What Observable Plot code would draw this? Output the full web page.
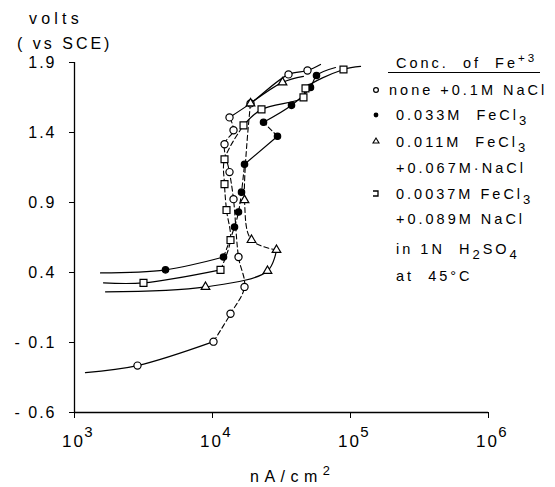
<!DOCTYPE html>
<html><head><meta charset="utf-8">
<script src="https://cdn.jsdelivr.net/npm/d3@7"></script>
<script src="https://cdn.jsdelivr.net/npm/@observablehq/plot@0.6"></script>
<style>
html,body{margin:0;padding:0;background:#fff;}
#wrap{position:relative;width:555px;height:487px;font-family:"Liberation Sans",Arial,sans-serif;color:#000;overflow:hidden;}
#wrap svg{position:absolute;left:0;top:0;}
#wrap svg text{letter-spacing:2px;}
.lab{position:absolute;white-space:pre;line-height:1;}
.lab sup{font-size:0.8em;line-height:0;vertical-align:0.55em;}
.lab sub{font-size:0.9em;line-height:0;vertical-align:-0.35em;}
.mk{position:absolute;}
</style></head><body><div id="wrap"></div>
<script>
// ---- tick values / labels ----
const xTicks = [1e3, 1e4, 1e5, 1e6];
const xTickExp = ["3", "4", "5", "6"];
const yTicks = [-0.6, -0.1, 0.4, 0.9, 1.4, 1.9];

// ---- series (current density nA/cm2, potential V vs SCE) ----
const noneX = [1201, 2861, 10167, 13503, 17061, 15432, 14198, 13280, 12218, 14198, 13280, 18857, 35540, 48790, 60620];
const noneY = [-0.315, -0.265, -0.094, 0.105, 0.297, 0.511, 0.924, 1.117, 1.316, 1.416, 1.508, 1.608, 1.815, 1.843, 1.886];

const fe033X = [1543, 4564, 12015, 14436, 15432, 16226, 17061, 29580, 23425, 37370, 51290, 56690, 77860];
const fe033Y = [0.397, 0.419, 0.511, 0.725, 0.832, 0.974, 1.173, 1.373, 1.473, 1.594, 1.722, 1.807, 1.864];

const fe011X = [1678, 8897, 25035, 29087, 19170, 17061, 18857, 32160, 45630];
const fe011Y = [0.262, 0.297, 0.411, 0.561, 0.632, 0.917, 1.608, 1.758, 1.801];

const fe0037X = [1622, 3162, 11428, 13503, 12633, 12218, 12218, 16777, 22650, 45630, 47200, 88970, 118200];
const fe0037Y = [0.326, 0.326, 0.419, 0.632, 0.846, 1.031, 1.209, 1.451, 1.565, 1.651, 1.715, 1.850, 1.872];

// ---- build tables ----
const seriesDefs = [
  {key: "none", xs: noneX, ys: noneY, dash: [[2, 10]], symbol: "circle", fill: "white", r: 3.6},
  {key: "fe033", xs: fe033X, ys: fe033Y, dash: [[2, 6], [7, 8]], symbol: "circle", fill: "black", r: 3.2},
  {key: "fe011", xs: fe011X, ys: fe011Y, dash: [[3, 6]], symbol: "triangle", fill: "white", r: 3.2},
  {key: "fe0037", xs: fe0037X, ys: fe0037Y, dash: [[2, 7]], symbol: "square", fill: "white", r: 3.9}
];

function runs(def) {
  const isDash = k => def.dash.some(([a, b]) => k >= a && k + 1 <= b);
  const out = [];
  let cur = null, id = 0;
  for (let k = 0; k < def.xs.length - 1; k++) {
    const d = isDash(k);
    if (!cur || cur.d !== d) { cur = {d, id: def.key + (id++), pts: [{x: def.xs[k], y: def.ys[k]}]}; out.push(cur); }
    cur.pts.push({x: def.xs[k + 1], y: def.ys[k + 1]});
  }
  return out;
}
const solidRows = [], dashRows = [];
for (const def of seriesDefs) {
  for (const r of runs(def)) {
    for (const p of r.pts) (r.d ? dashRows : solidRows).push({...p, run: r.id});
  }
}
const dotMarks = seriesDefs.map(def => {
  const rows = def.xs.map((x, i) => ({x, y: def.ys[i], i})).filter(d => d.i > 0 && d.i < def.xs.length - 1);
  return Plot.dot(rows, {x: "x", y: "y", symbol: def.symbol, r: def.r, fill: def.fill, stroke: "black", strokeWidth: 1.2});
});

const chart = Plot.plot({
  width: 555, height: 487,
  marginLeft: 74, marginRight: 67, marginTop: 62, marginBottom: 75,
  x: {type: "log", domain: [1e3, 1e6]},
  y: {domain: [-0.6, 1.9]},
  style: {fontFamily: "'Liberation Sans', Arial, sans-serif", fontSize: "16px", background: "white", color: "black"},
  marks: [
    Plot.ruleX([1e3], {stroke: "black", strokeWidth: 1.3}),
    Plot.ruleY([-0.6], {stroke: "black", strokeWidth: 1.3}),
    Plot.axisY(yTicks, {anchor: "left", tickSize: 5, tickPadding: 13, label: null, fontSize: 16,
      tickFormat: d => d < 0 ? "- " + Math.abs(d).toFixed(1) : d.toFixed(1)}),
    Plot.axisX(xTicks, {anchor: "bottom", tickSize: 6, label: null, tickFormat: () => ""}),
    Plot.text(xTicks, {x: d => d, text: () => "10", frameAnchor: "bottom", dy: 34, dx: -1, fontSize: 17}),
    Plot.text(xTicks, {x: d => d, text: (d, i) => xTickExp[i], frameAnchor: "bottom", dy: 24, dx: 15, fontSize: 15}),
    Plot.line(solidRows, {x: "x", y: "y", z: "run", curve: "catmull-rom", stroke: "black", strokeWidth: 1.2}),
    Plot.line(dashRows, {x: "x", y: "y", z: "run", curve: "catmull-rom", stroke: "black", strokeWidth: 1.1, strokeDasharray: "5,3"}),
    ...dotMarks
  ]
});
const wrap = document.getElementById("wrap");
wrap.appendChild(chart);

// ---- text labels and legend ----
function lab(html, left, baseline, size, ls) {
  const d = document.createElement("div");
  d.className = "lab";
  d.style.left = left + "px";
  d.style.top = (baseline - size * 0.85) + "px";
  d.style.fontSize = size + "px";
  d.style.letterSpacing = ls + "px";
  d.innerHTML = html;
  wrap.appendChild(d);
  return d;
}
lab("volts", 29, 25, 16, 4.2);
lab("( vs SCE)", 17, 50, 16, 3);
lab("nA/cm<sup>2</sup>", 250, 483, 16, 5.5);

const legendTitle = "Conc.  of  Fe<sup>+3</sup>";
const legendLines = [
  "none +0.1M NaCl",
  "0.033M  FeCl<sub>3</sub>",
  "0.011M  FeCl<sub>3</sub>",
  "+0.067M·NaCl",
  "0.0037M FeCl<sub>3</sub>",
  "+0.089M NaCl",
  "in 1N  H<sub>2</sub>SO<sub>4</sub>",
  "at  45°C"
];
lab(legendTitle, 396, 68, 14.5, 3);
const ul = document.createElement("div");
ul.style.cssText = "position:absolute;left:388px;top:72px;width:152px;height:1.3px;background:#000;";
wrap.appendChild(ul);
const lineBase = [95, 120, 147, 173, 199, 224, 254, 281];
const lineLeft = [389, 396, 396, 396, 396, 396, 396, 396];
legendLines.forEach((t, i) => lab(t, lineLeft[i], lineBase[i], 14.5, 3));

// legend symbols
const symSvg = d3.create("svg").attr("width", 20).attr("height", 130)
  .style("left", "366px").style("top", "80px").attr("class", "mk");
symSvg.append("circle").attr("cx", 10).attr("cy", 10).attr("r", 2.4).attr("fill", "white").attr("stroke", "black").attr("stroke-width", 1.2);
symSvg.append("circle").attr("cx", 10).attr("cy", 35).attr("r", 2.4).attr("fill", "black");
symSvg.append("path").attr("d", "M7,63 L13,63 L10,58 Z").attr("fill", "white").attr("stroke", "black").attr("stroke-width", 1.1);
symSvg.append("path").attr("d", "M7,111 L12,111 L12,116 L7,116").attr("fill", "none").attr("stroke", "black").attr("stroke-width", 1.3);
wrap.appendChild(symSvg.node());
</script>
</body></html>
